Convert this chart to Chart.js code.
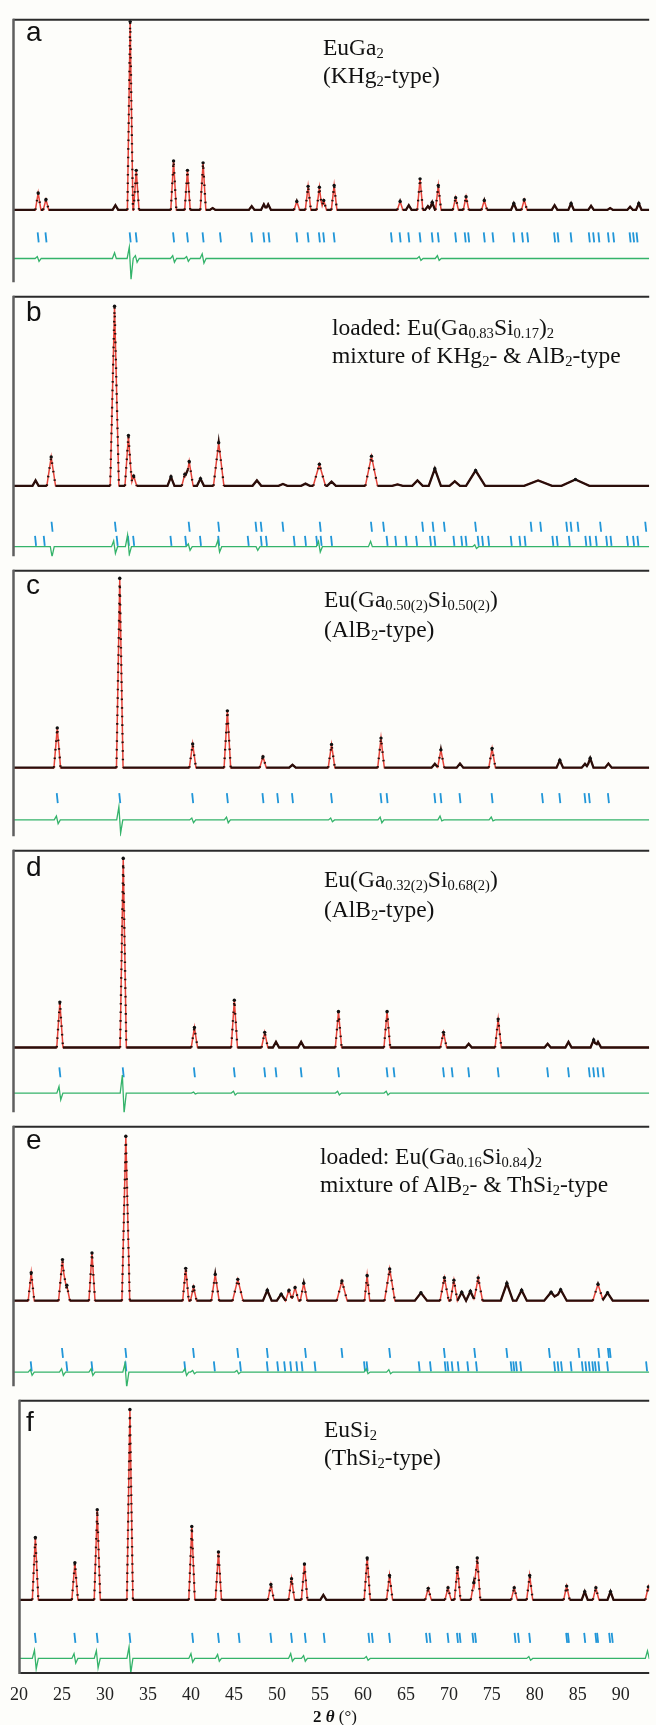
<!DOCTYPE html>
<html>
<head>
<meta charset="UTF-8">
<title>Rietveld plots EuGa2 - EuSi2</title>
<script src="https://cdn.jsdelivr.net/npm/chart.js"></script>
<style>
  body { margin: 0; background: #fdfdfa; }
  #page { position: relative; width: 656px; height: 1725px; overflow: hidden; }
  .panel { position: absolute; left: 0; width: 656px; }
  .letter { position: absolute; left: 26px; font-family: "Liberation Sans", Arial, sans-serif; font-size: 28px; line-height: 28px; color: #111; }
  .note { position: absolute; font-family: "Liberation Serif", "Times New Roman", serif; font-size: 23.5px; line-height: 28px; color: #111; white-space: nowrap; }
  .note.wide { line-height: 30px; }
  .note sub { font-size: 0.62em; line-height: 0; vertical-align: -0.22em; }
  #xtitle { position: absolute; left: 285px; width: 100px; top: 1708px; text-align: center; font-family: "Liberation Serif", serif; font-size: 17px; line-height: 17px; color: #111; }
</style>
</head>
<body>
<div id="page">
  <div class="panel" style="top:12px;height:277px"><canvas id="pa"></canvas></div>
  <div class="panel" style="top:289px;height:274px"><canvas id="pb"></canvas></div>
  <div class="panel" style="top:563px;height:280px"><canvas id="pc"></canvas></div>
  <div class="panel" style="top:843px;height:276px"><canvas id="pd"></canvas></div>
  <div class="panel" style="top:1119px;height:274px"><canvas id="pe"></canvas></div>
  <div class="panel" style="top:1393px;height:332px"><canvas id="pf"></canvas></div>

  <div class="letter" style="top:18px">a</div>
  <div class="letter" style="top:298px">b</div>
  <div class="letter" style="top:571px">c</div>
  <div class="letter" style="top:853px">d</div>
  <div class="letter" style="top:1126px">e</div>
  <div class="letter" style="top:1408px">f</div>

  <div class="note" style="left:323px;top:33px">EuGa<sub>2</sub><br>(KHg<sub>2</sub>-type)</div>
  <div class="note" style="left:332px;top:313px">loaded: Eu(Ga<sub>0.83</sub>Si<sub>0.17</sub>)<sub>2</sub><br>mixture of KHg<sub>2</sub>- &amp; AlB<sub>2</sub>-type</div>
  <div class="note wide" style="left:324px;top:584px">Eu(Ga<sub>0.50(2)</sub>Si<sub>0.50(2)</sub>)<br>(AlB<sub>2</sub>-type)</div>
  <div class="note wide" style="left:324px;top:864px">Eu(Ga<sub>0.32(2)</sub>Si<sub>0.68(2)</sub>)<br>(AlB<sub>2</sub>-type)</div>
  <div class="note" style="left:320px;top:1142px">loaded: Eu(Ga<sub>0.16</sub>Si<sub>0.84</sub>)<sub>2</sub><br>mixture of AlB<sub>2</sub>- &amp; ThSi<sub>2</sub>-type</div>
  <div class="note" style="left:324px;top:1415px">EuSi<sub>2</sub><br>(ThSi<sub>2</sub>-type)</div>

  <div id="xtitle"><b>2</b> <b><i>θ</i></b> (°)</div>
</div>

<script>
// x axis
const xMin = 20, xMax = 93.3;
const xTicks = [20, 25, 30, 35, 40, 45, 50, 55, 60, 65, 70, 75, 80, 85, 90];

// a: EuGa2
const aPeakPos = [22.9, 23.8, 31.8, 33.5, 34.2, 38.5, 40.1, 41.9, 43.0, 47.5, 48.9, 49.4, 52.7, 54.0, 55.3, 55.8, 57.0, 64.6, 65.6, 66.9, 67.8, 68.3, 69.0, 71.0, 72.2, 74.3, 77.7, 78.9, 82.4, 84.3, 86.6, 88.8, 91.1, 92.1];
const aPeakInt = [9, 5.5, 2.5, 100, 21, 26, 21, 25, 1, 2, 3, 3, 4.5, 12.5, 12, 5, 13, 4.5, 2.5, 16.5, 2, 4, 13, 6.5, 7, 5, 3.4, 5.4, 2.5, 3.4, 2.2, 1, 1.7, 3.4];
const aBragg = [22.9, 23.8, 33.5, 34.2, 38.5, 40.1, 41.9, 43.9, 47.5, 48.9, 49.5, 52.7, 54.0, 55.3, 55.8, 57.0, 63.6, 64.6, 65.6, 66.9, 68.3, 69.0, 71.0, 72.1, 72.5, 74.3, 75.3, 77.7, 78.7, 79.3, 82.4, 82.8, 84.3, 86.4, 86.9, 87.5, 88.6, 89.2, 91.1, 91.5, 91.9];
const aDiffPos = [22.9, 31.8, 33.5, 34.2, 38.5, 40.1, 41.9, 66.9, 69.0];
const aDiffUp = [1, 3, 6, 1.5, 1.5, 1, 2.5, 1, 1.5];
const aDiffDown = [1.5, 0, 11, 2, 2, 1.5, 2.5, 1, 1];

// b: loaded Eu(Ga0.83Si0.17)2
const bPeakPos = [22.6, 24.4, 31.7, 33.3, 33.9, 38.2, 39.8, 40.3, 41.6, 43.7, 48.1, 51.1, 53.7, 55.3, 56.7, 61.3, 64.3, 66.6, 68.6, 70.9, 73.3, 80.5, 84.8];
const bPeakInt = [3, 16, 100, 28, 5.5, 5, 6.5, 13.5, 4, 24, 3, 1, 1.2, 12, 2.3, 16.5, 0.8, 3, 9.5, 2.5, 8.5, 3, 3.5];
const bPeakWid = [0.35, 0.5, 0.5, 0.4, 0.35, 0.4, 0.35, 0.45, 0.4, 0.6, 0.5, 0.5, 0.5, 0.7, 0.5, 0.7, 0.6, 0.6, 0.7, 0.6, 1.1, 1.6, 1.6];
const bBraggUpper = [24.5, 31.8, 40.3, 43.7, 48.0, 48.6, 51.1, 55.4, 61.3, 62.7, 67.2, 68.4, 69.7, 73.3, 79.7, 80.8, 83.8, 84.3, 85.1, 87.7, 92.9];
const bBraggLower = [22.6, 23.6, 32.0, 33.3, 33.9, 38.2, 39.9, 41.6, 43.7, 47.1, 48.6, 49.2, 52.4, 53.7, 55.0, 55.5, 56.7, 63.1, 64.1, 65.3, 66.5, 68.1, 68.6, 70.8, 71.7, 72.2, 73.6, 74.1, 74.8, 77.4, 78.4, 79.0, 82.2, 82.7, 84.1, 86.0, 86.5, 87.2, 88.4, 88.9, 90.8, 91.5, 92.0];
const bDiffPos = [24.4, 31.7, 33.3, 40.3, 43.7, 48.1, 55.3, 61.3, 73.3];
const bDiffUp = [0, 3.2, 6.5, 1.5, 3.5, 0, 3, 3, 1];
const bDiffDown = [5.5, 3.7, 4.4, 2, 3, 2, 3, 0, 1];

// c: Eu(Ga0.50Si0.50)2
const cPeakPos = [25.1, 32.3, 40.7, 44.7, 48.8, 52.2, 56.7, 62.4, 68.6, 69.3, 71.5, 75.2, 83.0, 85.9, 86.5, 88.6];
const cPeakInt = [21, 100, 12.5, 30, 5.8, 1.5, 12.2, 15.6, 2, 9.4, 2.2, 10.2, 3.9, 2, 5, 2.2];
const cBragg = [25.1, 32.3, 40.7, 44.7, 48.8, 50.5, 52.2, 56.7, 62.4, 63.1, 68.6, 69.3, 71.5, 75.2, 81.0, 83.0, 85.9, 86.4, 88.6];
const cDiffPos = [25.1, 32.3, 40.7, 44.7, 56.7, 62.4, 69.3, 75.2];
const cDiffUp = [2, 7, 1, 1.5, 1, 1.5, 2, 1.5];
const cDiffDown = [2, 7, 1.5, 1.5, 1, 1.5, 0.5, 0.5];

// d: Eu(Ga0.32Si0.68)2
const dPeakPos = [25.4, 32.7, 40.9, 45.5, 49.0, 50.3, 53.2, 57.5, 63.1, 69.6, 72.5, 75.9, 81.6, 84.0, 86.9, 87.4];
const dPeakInt = [24, 100, 10.6, 25, 8, 3, 3, 19, 19, 8, 2, 15, 2, 3, 4, 3];
const dBragg = [25.4, 32.7, 40.9, 45.5, 49.0, 50.3, 53.2, 57.5, 63.1, 63.9, 69.6, 70.6, 72.5, 75.9, 81.6, 84.0, 86.4, 86.9, 87.4, 88.0];
const dDiffPos = [25.4, 32.7, 40.9, 45.5, 57.5, 63.1];
const dDiffUp = [3.5, 9.5, 0.5, 1, 1, 1];
const dDiffDown = [3.5, 10.5, 0.5, 1, 1, 1];

// e: loaded Eu(Ga0.16Si0.84)2
const ePeakPos = [22.1, 25.7, 26.2, 29.1, 33.0, 39.9, 40.8, 43.3, 45.9, 49.3, 50.9, 51.8, 52.5, 53.5, 57.9, 60.8, 63.4, 67.0, 69.7, 70.8, 71.7, 72.7, 73.6, 76.9, 78.6, 82.0, 83.1, 87.4, 88.5];
const ePeakInt = [17, 25, 9.4, 29, 100, 19.7, 8.5, 16, 13, 6.4, 4, 6.4, 8, 10.6, 12, 15.4, 19.3, 4.8, 14, 12.5, 5.2, 5.8, 13.9, 10.6, 6.4, 5.2, 6.7, 10, 4.8];
const ePeakWid = [0.35, 0.45, 0.35, 0.35, 0.45, 0.35, 0.35, 0.45, 0.6, 0.5, 0.5, 0.4, 0.4, 0.4, 0.6, 0.3, 0.6, 0.7, 0.5, 0.4, 0.5, 0.5, 0.5, 0.7, 0.6, 0.8, 0.7, 0.6, 0.6];
const eBraggUpper = [25.7, 33.0, 40.8, 45.9, 49.3, 53.7, 57.9, 63.4, 69.7, 73.2, 76.9, 81.8, 85.2, 87.5, 88.6, 88.8];
const eBraggLower = [22.1, 26.2, 29.1, 33.0, 39.8, 43.2, 46.2, 49.3, 50.5, 51.3, 52.0, 52.7, 53.3, 54.8, 60.5, 60.8, 66.8, 68.1, 69.8, 70.1, 70.6, 71.3, 72.4, 73.4, 77.4, 77.7, 78.0, 78.5, 82.4, 82.8, 83.2, 84.3, 85.6, 86.0, 86.4, 86.8, 87.1, 87.5, 88.5, 93.0];
const eDiffPos = [22.1, 25.7, 29.1, 33.0, 39.9, 40.8, 45.9, 60.8, 63.4];
const eDiffUp = [1.5, 2, 2, 5.2, 2, 1, 1, 2, 1.5];
const eDiffDown = [2, 2, 2, 9.2, 2, 1, 1, 1, 1];

// f: EuSi2
const fPeakPos = [21.9, 26.5, 29.1, 32.9, 40.1, 43.2, 49.3, 51.7, 53.2, 55.4, 60.5, 63.1, 67.6, 69.9, 71.0, 72.9, 73.3, 77.6, 79.4, 83.7, 85.8, 87.1, 88.8, 93.2];
const fPeakInt = [32.8, 19.5, 47.3, 100, 38.5, 25.1, 8, 11.1, 18.8, 2.6, 22, 12.8, 6, 6.3, 17, 9, 22, 6.3, 12.8, 7.2, 4.3, 6.3, 4.3, 6.8];
const fBragg = [21.9, 26.5, 29.1, 32.9, 40.2, 43.2, 45.6, 49.3, 51.7, 53.3, 55.5, 60.7, 61.1, 63.1, 67.4, 67.8, 69.9, 71.0, 71.3, 72.8, 73.1, 77.7, 78.1, 79.4, 83.7, 83.9, 85.8, 87.1, 87.3, 88.7, 89.0];
const fDiffPos = [21.9, 26.5, 29.1, 32.9, 40.1, 43.2, 51.7, 53.2, 60.5, 79.4, 93.2];
const fDiffUp = [4.3, 2.5, 4, 6, 2.5, 2, 2.5, 1.5, 1, 1, 4];
const fDiffDown = [5.6, 2.5, 5, 7.7, 2, 1.5, 1.5, 1.5, 1, 1, 0];

// ---- helpers ----
// summed triangular peaks, evaluated at their own vertices
function profile(pos, int, wid) {
  const w = i => Array.isArray(wid) ? wid[i] : wid;
  const xs = [xMin, xMax];
  pos.forEach((p, i) => xs.push(p - w(i), p, p + w(i)));
  xs.sort((a, b) => a - b);
  const tops = new Set(pos.filter((p, i) => int[i] > 3));
  return xs.map(x => ({
    x,
    y: pos.reduce((s, p, i) => s + Math.max(0, int[i] * (1 - Math.abs(x - p) / w(i))), 0),
    top: tops.has(x)
  }));
}

function diffCurve(pos, up, down, at) {
  const pts = [{ x: xMin, y: at }];
  pos.forEach((p, i) => {
    pts.push({ x: p - 0.35, y: at }, { x: p - 0.1, y: at + up[i] }, { x: p + 0.1, y: at - down[i] }, { x: p + 0.35, y: at });
  });
  pts.push({ x: xMax, y: at });
  return pts;
}

const frame = {
  id: 'frame',
  afterDraw(chart, args, opts) {
    const { ctx, chartArea: a } = chart;
    ctx.save();
    ctx.setLineDash([]);
    ctx.strokeStyle = '#2b2b2b';
    ctx.lineWidth = 2;
    ctx.beginPath();
    ctx.moveTo(a.left, a.top + 1); ctx.lineTo(a.right, a.top + 1);
    if (opts.bottom) { ctx.moveTo(a.left, a.bottom - 1); ctx.lineTo(a.right, a.bottom - 1); }
    ctx.stroke();
    ctx.strokeStyle = '#5e5e5e';
    ctx.lineWidth = 2.5;
    ctx.beginPath();
    ctx.moveTo(a.left + 0.5, a.top); ctx.lineTo(a.left + 0.5, a.bottom);
    ctx.stroke();
    ctx.restore();
  }
};

Chart.defaults.font.family = '"Liberation Serif", "Times New Roman", serif';
Chart.defaults.animation = false;

const panels = [
  { id: 'pa', ymin: -38.4, ymax: 101.5, pos: aPeakPos, int: aPeakInt, wid: 0.32, bragg: [[aBragg, -14.6]], diff: [aDiffPos, aDiffUp, aDiffDown], diffAt: -25.8 },
  { id: 'pb', ymin: -39.2, ymax: 105.8, pos: bPeakPos, int: bPeakInt, wid: bPeakWid, bragg: [[bBraggUpper, -22.8], [bBraggLower, -30.7]], diff: [bDiffPos, bDiffUp, bDiffDown], diffAt: -33.9 },
  { id: 'pc', ymin: -36.2, ymax: 104.5, pos: cPeakPos, int: cPeakInt, wid: 0.38, bragg: [[cBragg, -16.1]], diff: [cDiffPos, cDiffUp, cDiffDown], diffAt: -27.6 },
  { id: 'pd', ymin: -34.2, ymax: 104.5, pos: dPeakPos, int: dPeakInt, wid: 0.36, bragg: [[dBragg, -13.1]], diff: [dDiffPos, dDiffUp, dDiffDown], diffAt: -24.1 },
  { id: 'pe', ymin: -52.0, ymax: 106.4, pos: ePeakPos, int: ePeakInt, wid: ePeakWid, bragg: [[eBraggUpper, -31.8], [eBraggLower, -39.9]], diff: [eDiffPos, eDiffUp, eDiffDown], diffAt: -43.4 },
  { id: 'pf', ymin: -39.0, ymax: 105.1, pos: fPeakPos, int: fPeakInt, wid: 0.35, bragg: [[fBragg, -20.0]], diff: [fDiffPos, fDiffUp, fDiffDown], diffAt: -30.8, last: true }
];

panels.forEach(p => {
  const prof = profile(p.pos, p.int, p.wid);
  const datasets = [
    {
      label: 'observed',
      data: prof,
      borderColor: '#2a0e0a',
      borderWidth: 2.3,
      pointRadius: c => (c.raw && c.raw.top ? 1.7 : 0),
      pointBackgroundColor: '#111',
      pointBorderWidth: 0,
      segment: {
        borderDash: c => Math.abs(c.p1.y - c.p0.y) > 3 * Math.abs(c.p1.x - c.p0.x) ? [1.6, 7] : undefined
      }
    },
    {
      label: 'calculated',
      data: prof,
      borderColor: '#e5443a',
      borderWidth: 1.5,
      pointRadius: 0
    },
    {
      label: 'difference',
      data: diffCurve(p.diff[0], p.diff[1], p.diff[2], p.diffAt),
      borderColor: '#34b36a',
      borderWidth: 1.3,
      pointRadius: 0
    }
  ];
  p.bragg.forEach(([list, at]) => datasets.push({
    type: 'scatter',
    label: 'Bragg',
    data: list.map(x => ({ x, y: at })),
    pointStyle: 'line',
    rotation: 84,
    radius: 5,
    borderColor: '#2196d8',
    borderWidth: 1.8
  }));

  new Chart(document.getElementById(p.id), {
    type: 'line',
    data: { datasets },
    options: {
      responsive: true,
      maintainAspectRatio: false,
      layout: { padding: { left: 13, right: 0, top: 0, bottom: 0 } },
      plugins: { legend: { display: false }, tooltip: { enabled: false }, frame: { bottom: !!p.last } },
      elements: { line: { tension: 0 } },
      scales: {
        x: {
          type: 'linear',
          min: xMin,
          max: xMax,
          display: !!p.last,
          grid: { display: false, drawTicks: false },
          border: { display: false },
          afterBuildTicks: s => { s.ticks = xTicks.map(v => ({ value: v })); },
          afterFit: s => { if (p.last) s.height = 51; },
          ticks: { color: '#222', font: { size: 18 }, padding: 10, maxRotation: 0, autoSkip: false }
        },
        y: { display: false, min: p.ymin, max: p.ymax }
      }
    },
    plugins: [frame]
  });
});
</script>
</body>
</html>
